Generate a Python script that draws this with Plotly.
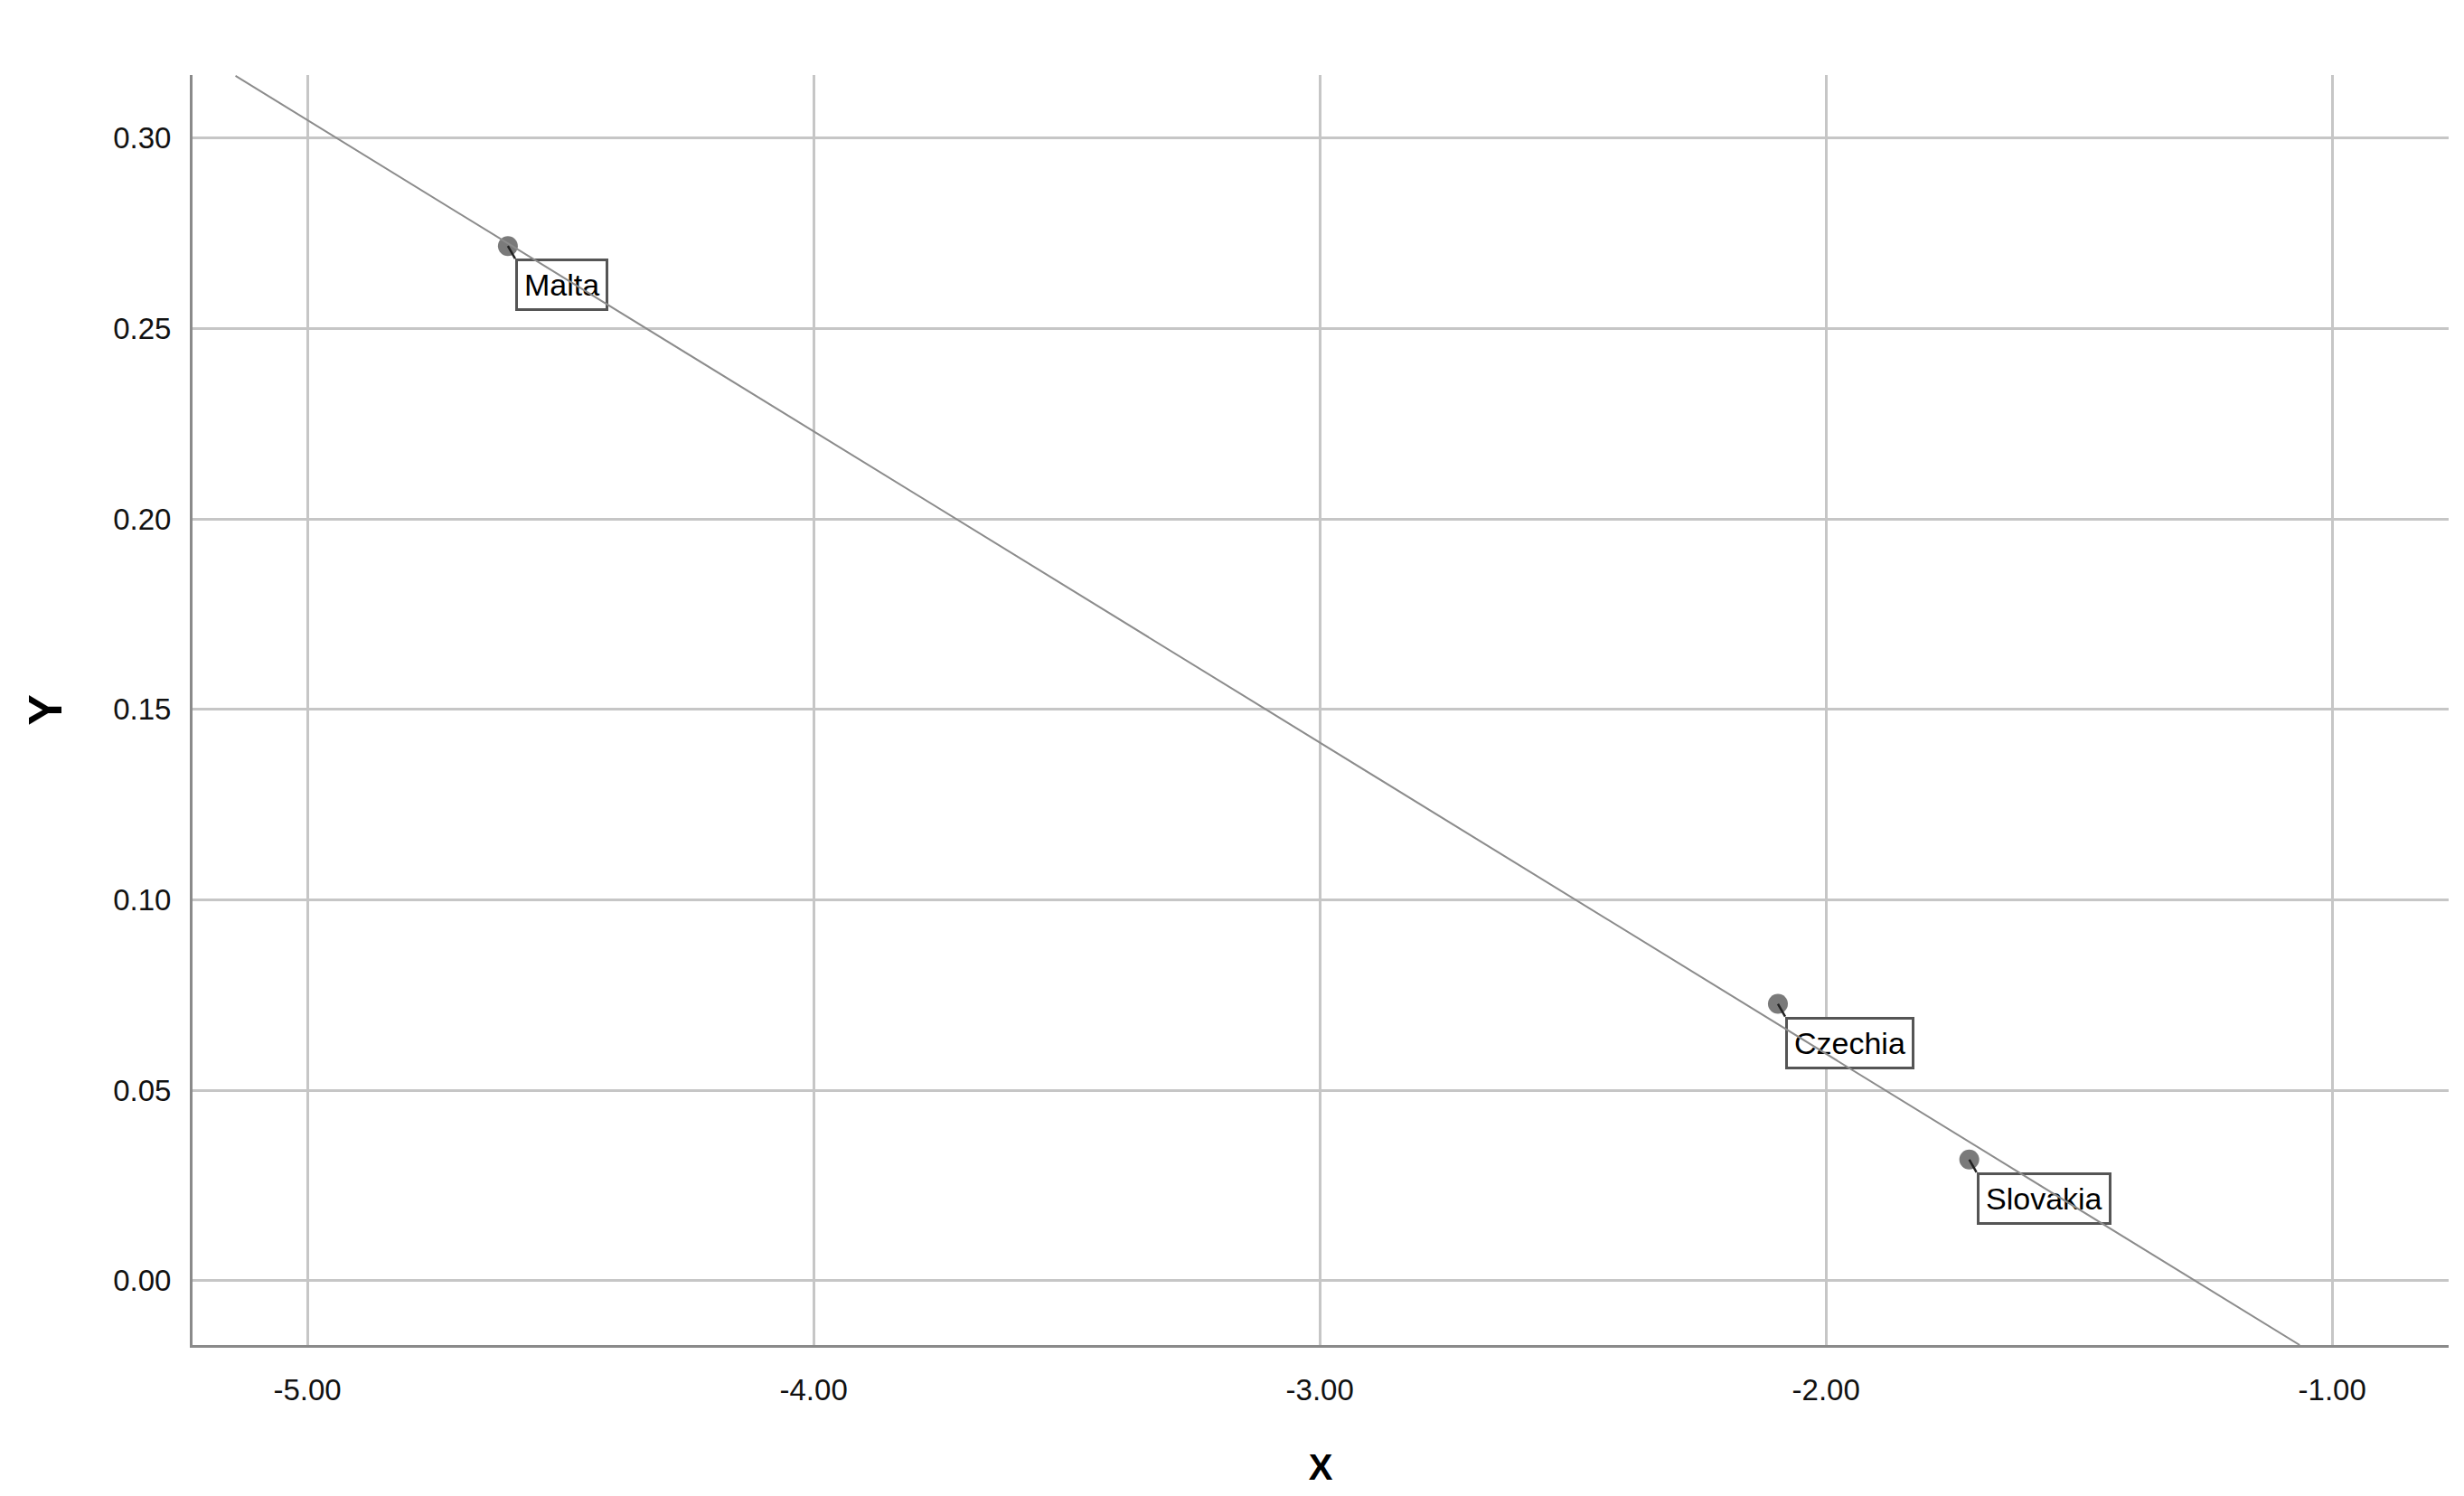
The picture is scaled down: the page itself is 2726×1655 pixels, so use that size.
"""
Scatter with fitted line and labelled points (X vs Y)
"""
import plotly.graph_objects as go
import numpy as np

# data
countries = ["Malta", "Czechia", "Slovakia"]
x_vals = [-4.604, -2.095, -1.717]
y_vals = [0.2717, 0.0727, 0.0318]

x_ticks = [-5.0, -4.0, -3.0, -2.0, -1.0]
y_ticks = [0.00, 0.05, 0.10, 0.15, 0.20, 0.25, 0.30]
x_range = [-5.227, -0.770]
y_range = [-0.0169, 0.3166]

FONT = "Liberation Sans, Arial, sans-serif"

# least-squares fit line through the points
slope, intercept = np.polyfit(x_vals, y_vals, 1)


def clip_fit():
    # ends of the fit line where it meets the plot box
    pts = []
    for xv in x_range:
        yv = intercept + slope * xv
        if yv > y_range[1]:
            xv, yv = (y_range[1] - intercept) / slope, y_range[1]
        elif yv < y_range[0]:
            xv, yv = (y_range[0] - intercept) / slope, y_range[0]
        pts.append((xv, yv))
    return pts


(fx0, fy0), (fx1, fy1) = clip_fit()

fig = go.Figure()

fig.add_trace(go.Scatter(
    x=x_vals, y=y_vals, mode="markers",
    marker=dict(color="#7a7a7a", size=22),
    text=countries, showlegend=False,
))

# boxed point labels, lower right of each point
for name, xv, yv in zip(countries, x_vals, y_vals):
    fig.add_annotation(
        x=xv, y=yv, text=name,
        showarrow=True, arrowhead=0, arrowwidth=2.5, arrowcolor="#222222",
        ax=8, ay=14, xanchor="left", yanchor="top",
        bgcolor="white", bordercolor="#555555", borderwidth=3, borderpad=7,
        font=dict(family=FONT, size=34, color="black"),
    )

# fit line drawn last so it runs over the label boxes, as in the original
fig.add_annotation(
    x=fx1, y=fy1, ax=fx0, ay=fy0, xref="x", yref="y", axref="x", ayref="y",
    text="", showarrow=True, arrowhead=0, arrowwidth=2, arrowcolor="#8c8c8c",
    standoff=0, startstandoff=0,
)

axis_common = dict(
    showgrid=True, gridcolor="#c6c6c6", gridwidth=2.5,
    showline=True, linecolor="#8a8a8a", linewidth=3,
    zeroline=False, ticks="", mirror=False,
    tickfont=dict(family=FONT, size=33, color="#111111"),
)

fig.update_xaxes(
    **axis_common, range=x_range, tickvals=x_ticks,
    ticktext=[f"{v:.2f}" for v in x_ticks],
    ticklabelstandoff=18,
    title=dict(text="<b>X</b>", font=dict(family=FONT, size=40, color="black"), standoff=55),
)
fig.update_yaxes(
    **axis_common, range=y_range, tickvals=y_ticks,
    ticktext=[f"{v:.2f}" for v in y_ticks],
    ticklabelstandoff=14,
    title=dict(text="<b>Y</b>", font=dict(family=FONT, size=52, color="black"), standoff=40),
)

fig.update_layout(
    width=2726, height=1655,
    margin=dict(l=205, r=25, t=75, b=175),
    paper_bgcolor="white", plot_bgcolor="white",
    showlegend=False,
)

fig.write_html("out.html")
